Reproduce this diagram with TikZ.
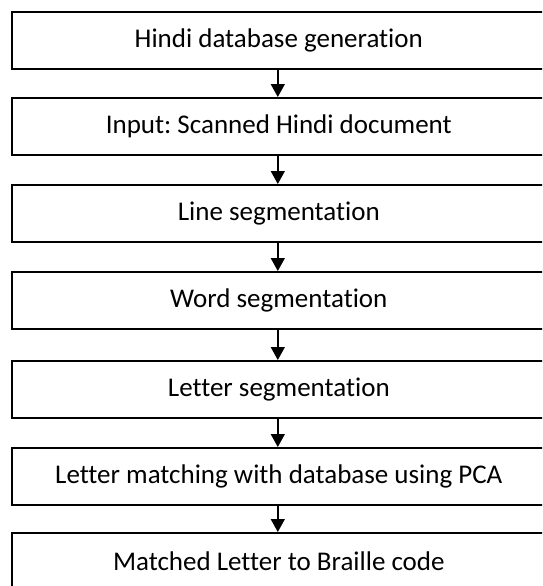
\documentclass[tikz,border=0pt]{standalone}
\usepackage{fontspec}
\setmainfont[RawFeature=-liga]{Carlito}
\frenchspacing
\usetikzlibrary{arrows.meta}
\tikzset{
  stepbox/.style={draw, line width=1.6pt, minimum width=534pt, minimum height=57pt,
    inner sep=0pt, font=\fontsize{27}{32}\selectfont, anchor=north west},
  flow/.style={line width=1.6pt, -{Triangle[length=13pt,width=14pt]}}
}
\begin{document}
\begin{tikzpicture}[x=1pt,y=-1pt]
  \clip (0,0) rectangle (542,586);
  \fill[white] (0,0) rectangle (542,586);
  % processing stages, top to bottom
  \node[stepbox] (s1) at (11,11)  {Hindi database generation};
  \node[stepbox] (s2) at (11,97)  {Input: Scanned Hindi document};
  \node[stepbox] (s3) at (11,184) {Line segmentation};
  \node[stepbox] (s4) at (11,271) {Word segmentation};
  \node[stepbox] (s5) at (11,360) {Letter segmentation};
  \node[stepbox] (s6) at (11,447) {Letter matching with database using PCA};
  \node[stepbox] (s7) at (11,532) {Matched Letter to Braille code};
  % connectors between consecutive stages
  \foreach \a/\b in {s1/s2,s2/s3,s3/s4,s4/s5,s5/s6,s6/s7}
    \draw[flow] ([xshift=-1pt]\a.south) -- ([xshift=-1pt]\b.north);
\end{tikzpicture}
\end{document}
